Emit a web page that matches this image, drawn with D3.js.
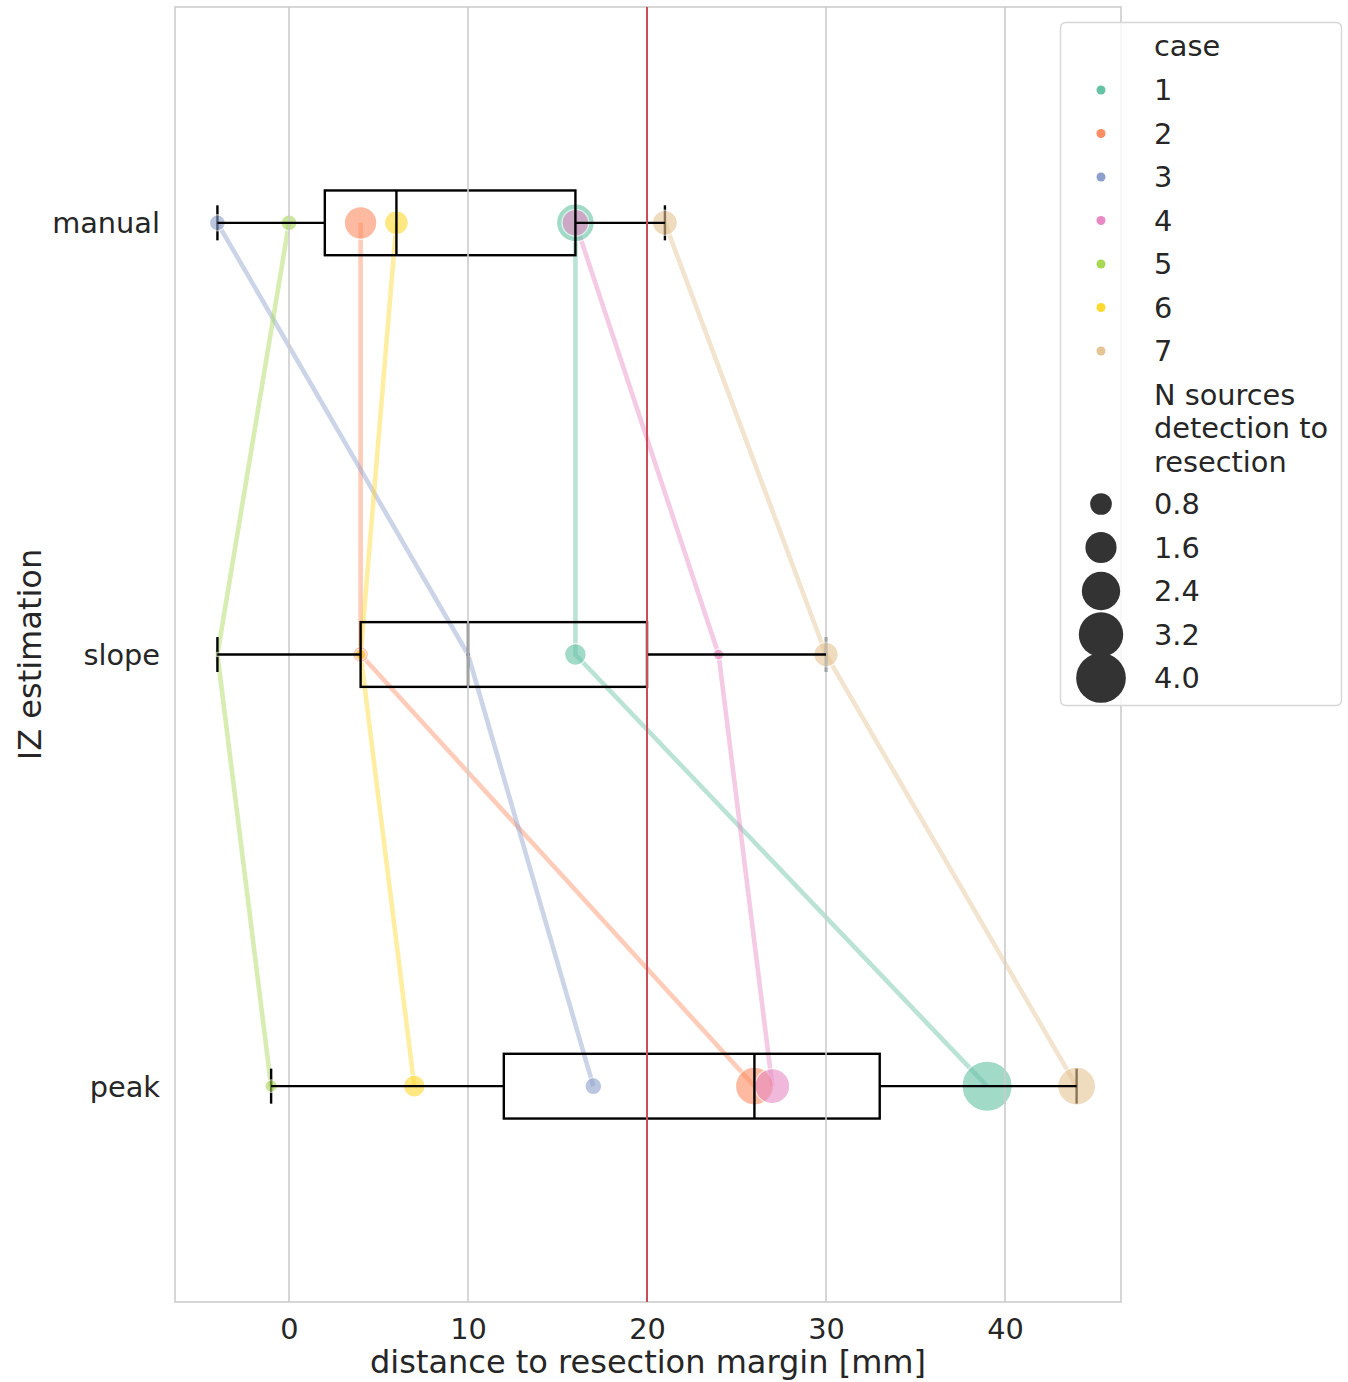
<!DOCTYPE html>
<html>
<head>
<meta charset="utf-8">
<script src="https://cdn.jsdelivr.net/npm/d3@7"></script>
<style>
  html, body { margin: 0; padding: 0; background: #fff; }
  svg text { font-family: "DejaVu Sans", sans-serif; fill: #262626; }
</style>
</head>
<body>
<svg id="chart" width="1348" height="1382"></svg>
<script>
// ---------- data ----------
const categories = ["manual", "slope", "peak"];
const cases = ["1", "2", "3", "4", "5", "6", "7"];
const caseColors = ["#66c2a5", "#fc8d62", "#8da0cb", "#e78ac3", "#a6d854", "#ffd92f", "#e5c494"];
// distance to resection margin [mm] per case
const manualDist = [16, 4, -4, 16, 0, 6, 21];
const slopeDist  = [16, 4, 10, 24, -4, 4, 30];
const peakDist   = [39, 26, 17, 27, -1, 7, 44];
// N sources detection to resection per case
const manualSize = [2.36, 1.76, 0.46, 1.2, 0.46, 0.97, 1.05];
const slopeSize  = [0.82, 0.44, 0.09, 0.24, 0.07, 0.24, 1.01];
const peakSize   = [4.1, 2.36, 0.51, 2.01, 0.30, 0.82, 2.36];
const xTicks = [0, 10, 20, 30, 40];
const sizeLegendValues = [0.8, 1.6, 2.4, 3.2, 4.0];
const thresholdValue = 20;

const distByCat = [manualDist, slopeDist, peakDist];
const sizeByCat = [manualSize, slopeSize, peakSize];

// ---------- layout ----------
const svg = d3.select("#chart");
const plot = { left: 175, right: 1121, top: 7, bottom: 1302 };

const x = d3.scaleLinear().domain([-6.37, 46.48]).range([plot.left, plot.right]);
const y = d3.scaleBand().domain(categories).range([plot.top, plot.bottom]).paddingInner(0).paddingOuter(0);
const yc = c => y(c) + y.bandwidth() / 2;
// marker diameter^2 linear in value (area mapping)
const area = d3.scaleLinear().domain([0.8, 4.0]).range([471, 2470]);
const radius = v => Math.sqrt(Math.max(area(v), 12)) / 2;

const boxH = y.bandwidth() * 0.15;
const capH = 35;

// frame
svg.append("rect").attr("x", plot.left).attr("y", plot.top)
  .attr("width", plot.right - plot.left).attr("height", plot.bottom - plot.top)
  .attr("fill", "none").attr("stroke", "#cccccc").attr("stroke-width", 1.6);

// connecting lines per case
const lineGen = d3.line().x(d => x(d[0])).y(d => yc(d[1]));
cases.forEach((c, i) => {
  const pts = categories.map((cat, k) => [distByCat[k][i], cat]);
  svg.append("path").attr("d", lineGen(pts))
    .attr("fill", "none").attr("stroke", caseColors[i])
    .attr("stroke-width", 4.6).attr("stroke-opacity", 0.45)
    .attr("stroke-linejoin", "round");
});

// box stats
const stats = categories.map((cat, k) => {
  const v = distByCat[k].slice().sort(d3.ascending);
  const q1 = d3.quantile(v, 0.25), med = d3.quantile(v, 0.5), q3 = d3.quantile(v, 0.75);
  const iqr = q3 - q1;
  const lo = d3.min(v.filter(d => d >= q1 - 1.5 * iqr));
  const hi = d3.max(v.filter(d => d <= q3 + 1.5 * iqr));
  return { cat, q1, med, q3, lo, hi };
});

// caps (below points)
stats.forEach(s => {
  [s.lo, s.hi].forEach(val => {
    svg.append("line").attr("x1", x(val)).attr("x2", x(val))
      .attr("y1", yc(s.cat) - capH / 2).attr("y2", yc(s.cat) + capH / 2)
      .attr("stroke", "#000").attr("stroke-width", 2.4);
  });
});

// points
categories.forEach((cat, k) => {
  cases.forEach((c, i) => {
    svg.append("circle")
      .attr("cx", x(distByCat[k][i])).attr("cy", yc(cat))
      .attr("r", radius(sizeByCat[k][i]))
      .attr("fill", caseColors[i]).attr("stroke", "#fff").attr("stroke-width", 1.4)
      .attr("opacity", 0.6);
  });
});

// boxes + medians
stats.forEach(s => {
  svg.append("rect").attr("x", x(s.q1)).attr("y", yc(s.cat) - boxH / 2)
    .attr("width", x(s.q3) - x(s.q1)).attr("height", boxH)
    .attr("fill", "none").attr("stroke", "#000").attr("stroke-width", 2.4);
  svg.append("line").attr("x1", x(s.med)).attr("x2", x(s.med))
    .attr("y1", yc(s.cat) - boxH / 2).attr("y2", yc(s.cat) + boxH / 2)
    .attr("stroke", "#000").attr("stroke-width", 2.4);
});

// vertical grid
svg.append("g").selectAll("line").data(xTicks).join("line")
  .attr("x1", d => x(d)).attr("x2", d => x(d))
  .attr("y1", plot.top).attr("y2", plot.bottom)
  .attr("stroke", "#cccccc").attr("stroke-width", 1.6);

// whiskers
stats.forEach(s => {
  [[s.lo, s.q1], [s.q3, s.hi]].forEach(([a, b]) => {
    svg.append("line").attr("x1", x(a)).attr("x2", x(b))
      .attr("y1", yc(s.cat)).attr("y2", yc(s.cat))
      .attr("stroke", "#000").attr("stroke-width", 2.4);
  });
});

// threshold line
svg.append("line").attr("x1", x(thresholdValue)).attr("x2", x(thresholdValue))
  .attr("y1", plot.top).attr("y2", plot.bottom)
  .attr("stroke", "#cc4c55").attr("stroke-width", 2);

// x axis
const xAxis = d3.axisBottom(x).tickValues(xTicks).tickSize(0).tickPadding(0).tickFormat(d3.format("d"));
const gx = svg.append("g").attr("transform", `translate(0,${plot.bottom})`).call(xAxis);
gx.select(".domain").remove();
gx.selectAll("text").attr("font-size", 28.8).attr("dy", null).attr("y", 37)
  .style("font-family", "DejaVu Sans").attr("fill", "#262626");

// y axis
const yAxis = d3.axisLeft(y).tickSize(0).tickPadding(15);
const gy = svg.append("g").attr("transform", `translate(${plot.left},0)`).call(yAxis);
gy.select(".domain").remove();
gy.selectAll("text").attr("font-size", 28.8).attr("dy", "0.36em")
  .style("font-family", "DejaVu Sans").attr("fill", "#262626");

// axis labels
svg.append("text").attr("x", (plot.left + plot.right) / 2).attr("y", 1373)
  .attr("text-anchor", "middle").attr("font-size", 32)
  .text("distance to resection margin [mm]");
svg.append("text").attr("transform", `translate(41,${yc("slope")}) rotate(-90)`)
  .attr("text-anchor", "middle").attr("font-size", 32)
  .text("IZ estimation");

// legend
const lg = svg.append("g");
lg.append("rect").attr("x", 1060.5).attr("y", 22.5).attr("width", 281).attr("height", 683)
  .attr("rx", 5).attr("fill", "#fff").attr("fill-opacity", 0.8)
  .attr("stroke", "#d6d6d6").attr("stroke-width", 1.4);
const lgTextX = 1154, lgMarkX = 1101, fsL = 28.8;
lg.append("text").attr("x", lgTextX).attr("y", 56).attr("font-size", fsL).text("case");
const rowY = d3.scaleLinear().domain([0, 1]).range([90, 133.5]);
cases.forEach((c, i) => {
  const cy = rowY(i);
  lg.append("circle").attr("cx", lgMarkX).attr("cy", cy).attr("r", 4.5).attr("fill", caseColors[i]);
  lg.append("text").attr("x", lgTextX).attr("y", cy + 10.4).attr("font-size", fsL).text(c);
});
["N sources", "detection to", "resection"].forEach((t, j) => {
  lg.append("text").attr("x", lgTextX).attr("y", 404.5 + j * 33.6).attr("font-size", fsL).text(t);
});
const sizeRowY = d3.scaleLinear().domain([0, 1]).range([504, 547.5]);
sizeLegendValues.forEach((v, j) => {
  const cy = sizeRowY(j);
  lg.append("circle").attr("cx", lgMarkX).attr("cy", cy).attr("r", radius(v)).attr("fill", "#333333");
  lg.append("text").attr("x", lgTextX).attr("y", cy + 10.4).attr("font-size", fsL).text(v.toFixed(1));
});
</script>
</body>
</html>
